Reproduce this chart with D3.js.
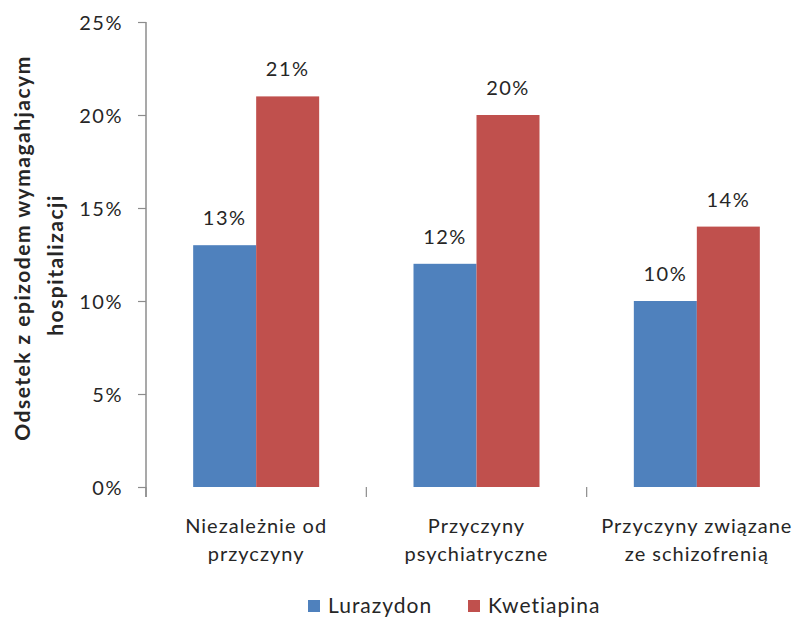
<!DOCTYPE html>
<html>
<head>
<meta charset="utf-8">
<script src="https://cdn.jsdelivr.net/npm/d3@7"></script>
<style>
  html, body { margin: 0; padding: 0; background: #fff; }
  svg text { font-family: Lato, "Open Sans", sans-serif; fill: #262626; }
</style>
</head>
<body>
<svg id="chart" width="803" height="617"></svg>
<script>
// Share of patients with an episode requiring hospitalisation
const categories = [
  ["Niezależnie od", "przyczyny"],
  ["Przyczyny", "psychiatryczne"],
  ["Przyczyny związane", "ze schizofrenią"]
];
const seriesNames = ["Lurazydon", "Kwetiapina"];
const lurazydon = [13, 12, 10];
const kwetiapina = [21, 20, 14];
const yTicks = [0, 5, 10, 15, 20, 25];
const colors = ["#4F81BD", "#C0504D"];

const svg = d3.select("#chart");
const W = 803;
const plotLeft = 146, plotRight = 807, plotTop = 22, plotBottom = 487;

const catKeys = categories.map((c, i) => i);
const x = d3.scaleBand().domain(catKeys).range([plotLeft, plotRight]);
const pairWidth = 126;
const inner = d3.scaleBand().domain([0, 1]).range([0, pairWidth]);
const y = d3.scaleLinear().domain([0, 25]).range([plotBottom, plotTop]);

// Y axis
const yAxis = d3.axisLeft(y).tickValues(yTicks).tickFormat(d => d + "%").tickSize(8).tickPadding(15);
const gy = svg.append("g").attr("transform", `translate(${plotLeft},0)`).call(yAxis);
gy.select(".domain").attr("stroke", "#8c8c8c").attr("stroke-width", 1.5)
  .attr("d", `M0,${plotTop}V${plotBottom + 10}`);
gy.selectAll(".tick line").attr("stroke", "#8c8c8c").attr("stroke-width", 1.2);
gy.selectAll(".tick text").attr("font-size", 20).attr("letter-spacing", "1.5px")
  .attr("fill", "#333").attr("dy", "0.35em");

// Category separators below the plot
const sepPositions = d3.range(categories.length + 1).map(i => plotLeft + i * x.bandwidth());
svg.append("g").selectAll("line").data(sepPositions).join("line")
  .attr("x1", d => d).attr("x2", d => d)
  .attr("y1", plotBottom).attr("y2", plotBottom + 10)
  .attr("stroke", "#8c8c8c").attr("stroke-width", 1.2);

// Category labels
const catG = svg.append("g");
categories.forEach((lines, i) => {
  const cx = x(i) + x.bandwidth() / 2;
  const t = catG.append("text")
    .attr("y", 533)
    .attr("text-anchor", "middle")
    .attr("font-size", 20)
    .attr("letter-spacing", "1px");
  lines.forEach((l, j) => {
    t.append("tspan").attr("x", cx).attr("dy", j === 0 ? 0 : 28).text(l);
  });
});

// Bars
const data = [];
categories.forEach((c, i) => {
  [lurazydon[i], kwetiapina[i]].forEach((v, s) => data.push({ cat: i, s, v }));
});
const barX = d => x(d.cat) + x.bandwidth() / 2 - pairWidth / 2 + inner(d.s);
const barG = svg.append("g");
barG.selectAll("rect").data(data).join("rect")
  .attr("x", barX)
  .attr("y", d => y(d.v))
  .attr("width", inner.bandwidth())
  .attr("height", d => y(0) - y(d.v))
  .attr("fill", d => colors[d.s]);

// Value labels
barG.selectAll("text").data(data).join("text")
  .attr("x", d => barX(d) + inner.bandwidth() / 2)
  .attr("y", d => y(d.v) - 20)
  .attr("text-anchor", "middle")
  .attr("font-size", 20)
  .attr("letter-spacing", "1.5px")
  .text(d => d.v + "%");

// Y axis title
const title = svg.append("text")
  .attr("transform", "translate(30,248) rotate(-90)")
  .attr("text-anchor", "middle")
  .attr("font-size", 21)
  .attr("font-weight", "bold")
  .attr("letter-spacing", "1.5px")
  .attr("fill", "#111");
title.append("tspan").attr("x", 0).attr("dy", 0).text("Odsetek  z epizodem wymagahjacym");
title.append("tspan").attr("x", -17).attr("dy", 33).text("hospitalizacji");

// Legend
const legend = svg.append("g").attr("transform", "translate(0,606)");
const legendX = [308, 468];
seriesNames.forEach((name, i) => {
  legend.append("rect").attr("x", legendX[i]).attr("y", -6).attr("width", 12).attr("height", 12).attr("fill", colors[i]);
  legend.append("text").attr("x", legendX[i] + 20).attr("y", 0).attr("dy", "0.35em")
    .attr("font-size", 21).attr("letter-spacing", "1px").text(name);
});
</script>
</body>
</html>
